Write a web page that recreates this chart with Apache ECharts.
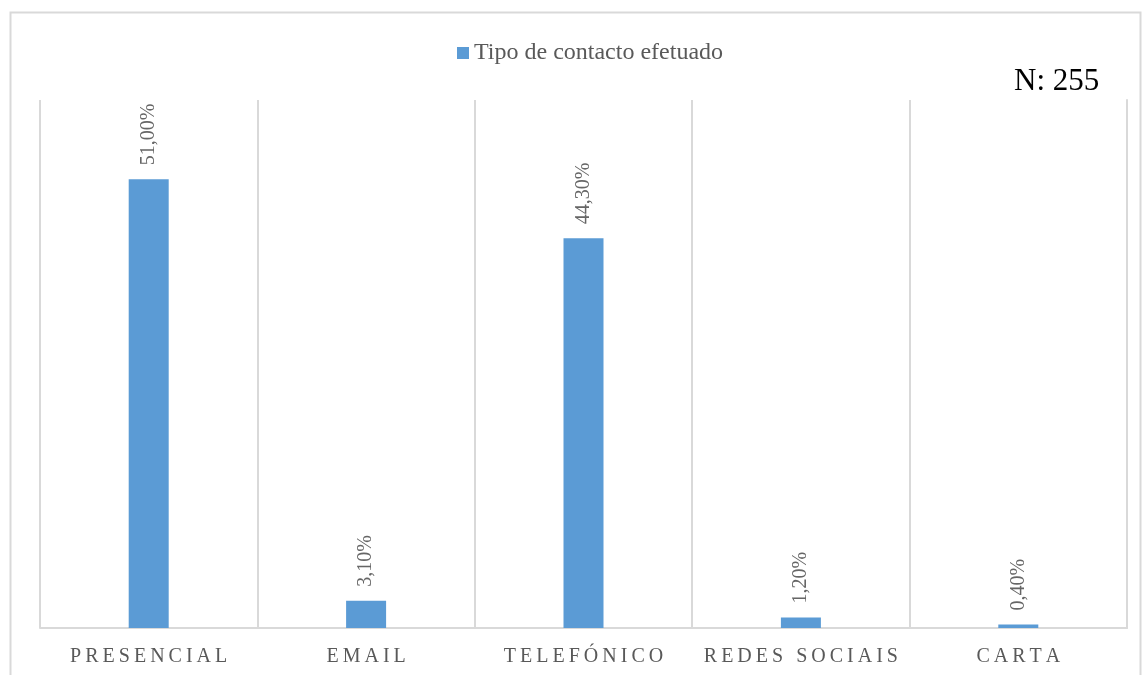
<!DOCTYPE html>
<html>
<head>
<meta charset="utf-8">
<script src="https://cdn.jsdelivr.net/npm/echarts@6/dist/echarts.min.js"></script>
<style>
  html, body { margin: 0; padding: 0; background: #fff; }
  #myChart { width: 1143px; height: 675px; }
</style>
</head>
<body>
<div id="myChart"></div>
<script>
var categories = ["PRESENCIAL", "EMAIL", "TELEFÓNICO", "REDES SOCIAIS", "CARTA"];
var percentages = [51.0, 3.1, 44.3, 1.2, 0.4];
var seriesName = "Tipo de contacto efetuado";
var sampleNote = "N: 255";

var chart = echarts.init(document.getElementById("myChart"));

// spread letters out like the original (thin spaces between chars)
function spaced(str) {
  return str.split("").join("\u2009");
}

var option = {
  animation: false,
  color: ["#5b9bd5"],
  textStyle: { fontFamily: "Liberation Serif" },
  graphic: [
    {
      type: "rect",
      shape: { x: 10.5, y: 12.5, width: 1130, height: 700 },
      style: { fill: "none", stroke: "#d9d9d9", lineWidth: 2 },
      silent: true
    },
    {
      type: "text",
      left: 1014,
      top: 66,
      style: { text: sampleNote, fill: "#000", font: "31px 'Liberation Serif'" }
    }
  ],
  legend: {
    left: 452,
    top: 36,
    icon: "rect",
    itemWidth: 12,
    itemHeight: 12,
    itemGap: 6,
    textStyle: { color: "#595959", fontSize: 24, fontFamily: "Liberation Serif" },
    data: [seriesName]
  },
  grid: {
    left: 40,
    right: 16,
    top: 100,
    bottom: 47,
    containLabel: false
  },
  xAxis: {
    type: "category",
    data: categories,
    axisTick: { show: false },
    axisLine: { show: true, lineStyle: { color: "#d9d9d9", width: 2 } },
    splitLine: { show: true, interval: 0, lineStyle: { color: "#d9d9d9", width: 2 } },
    axisLabel: {
      interval: 0,
      color: "#595959",
      fontSize: 20,
      fontFamily: "Liberation Serif",
      margin: 19,
      formatter: function (v) { return spaced(v); }
    }
  },
  yAxis: {
    type: "value",
    min: 0,
    max: 60,
    position: "right",
    // only the closing vertical line on the right edge is visible
    axisLine: { show: true, onZero: false, lineStyle: { color: "#d9d9d9", width: 2 } },
    axisTick: { show: false },
    axisLabel: { show: false },
    splitLine: { show: false }
  },
  series: [
    {
      name: seriesName,
      type: "bar",
      barWidth: 40,
      data: percentages,
      label: {
        show: true,
        position: "top",
        rotate: 90,
        align: "left",
        verticalAlign: "middle",
        distance: 14,
        color: "#666",
        fontSize: 20,
        fontFamily: "Liberation Serif",
        formatter: function (p) {
          return p.value.toFixed(2).replace(".", ",") + "%";
        }
      }
    }
  ]
};

chart.setOption(option);
</script>
</body>
</html>
